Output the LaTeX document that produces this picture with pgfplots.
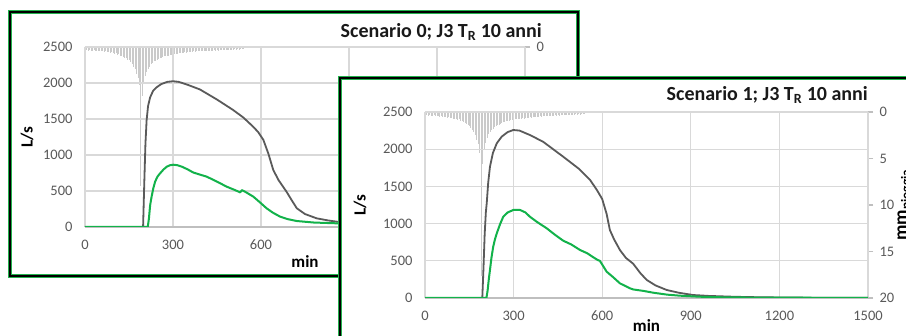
\documentclass[border=0pt]{standalone}
\usepackage{pgfplots}
\pgfplotsset{compat=1.18}
\usepackage{pgfplotstable}
\usepackage{fontspec}
\setmainfont{Carlito}
\definecolor{curvegray}{HTML}{5A5A5A}
\definecolor{curvegreen}{HTML}{12B24A}
\definecolor{gridgray}{HTML}{D9D9D9}
\definecolor{raingray}{HTML}{CACACA}
\definecolor{axisgray}{HTML}{BFBFBF}
\definecolor{ticktext}{HTML}{595959}
\definecolor{framegreen}{HTML}{22B14C}

% rain (mm per 5 min): a = scenario 0 panel, b = scenario 1 panel
\pgfplotstableread{
t a b
0 0.35 0.35
5 0.30 0.30
10 0.40 0.40
15 0.35 0.35
20 0.40 0.40
25 0.45 0.45
30 0.35 0.35
35 0.40 0.40
40 0.45 0.45
45 0.40 0.40
50 0.50 0.50
55 0.45 0.45
60 0.50 0.50
65 0.55 0.55
70 0.50 0.50
75 0.60 0.60
80 0.55 0.55
85 0.65 0.65
90 0.60 0.60
95 0.70 0.70
100 0.75 0.75
105 0.70 0.70
110 0.85 0.85
115 0.80 0.80
120 0.95 0.95
125 1.00 1.00
130 1.10 1.10
135 1.20 1.20
140 1.25 1.25
145 1.40 1.40
150 1.50 1.50
155 1.70 1.70
160 1.90 1.90
165 2.20 2.20
170 2.50 2.50
175 3.00 3.00
180 3.40 3.40
185 4.20 4.40
190 15.5 17.6
195 5.40 5.60
200 3.90 4.00
205 3.20 3.30
210 2.80 2.80
215 2.40 2.40
220 2.20 2.20
225 1.90 1.90
230 1.80 1.80
235 1.60 1.60
240 1.55 1.55
245 1.40 1.40
250 1.35 1.35
255 1.25 1.25
260 1.20 1.20
265 1.10 1.10
270 1.05 1.05
275 1.00 1.00
280 0.95 0.95
285 0.95 0.95
290 0.90 0.90
295 0.85 0.85
300 0.80 0.80
305 0.80 0.80
310 0.75 0.75
315 0.75 0.75
320 0.70 0.70
325 0.70 0.70
330 0.65 0.65
335 0.70 0.70
340 0.60 0.60
345 0.65 0.65
350 0.60 0.60
355 0.55 0.55
360 0.60 0.60
365 0.55 0.55
370 0.50 0.50
375 0.55 0.55
380 0.50 0.50
385 0.50 0.50
390 0.45 0.45
395 0.50 0.50
400 0.45 0.45
405 0.45 0.45
410 0.40 0.40
415 0.45 0.45
420 0.40 0.40
425 0.45 0.45
430 0.40 0.40
435 0.40 0.40
440 0.35 0.35
445 0.40 0.40
450 0.35 0.35
455 0.40 0.40
460 0.35 0.35
465 0.35 0.35
470 0.30 0.30
475 0.35 0.35
480 0.30 0.30
485 0.35 0.35
490 0.30 0.30
495 0.30 0.30
500 0.30 0.30
505 0.30 0.30
510 0.25 0.25
515 0.30 0.30
520 0.25 0.25
525 0.30 0.30
530 0.25 0.25
535 0.25 0.25
540 0.25 0.25
}\raindata

\pgfplotstableread{
t q
0 0
198 0
202 600
206 1150
210 1480
215 1680
222 1800
232 1890
244 1940
260 1985
280 2015
300 2025
320 2015
350 1975
392 1910
450 1770
505 1625
540 1520
574 1390
590 1320
608 1210
625 1020
642 790
660 650
687 490
705 370
722 260
750 180
790 120
830 90
858 74
900 55
1000 30
1100 15
1200 8
1300 4
1500 0
}\szeroGrey

\pgfplotstableread{
t q
0 0
214 0
218 120
222 300
227 421
233 540
239 629
247 700
256 745
268 800
279 838
290 858
301 865
315 858
330 838
350 800
369 757
390 730
415 699
450 630
483 560
510 515
529 481
535 512
550 480
574 421
597 340
619 260
640 200
665 144
690 110
722 83
780 62
858 51
950 35
1050 20
1200 8
1500 0
}\szeroGreen

\pgfplotstableread{
t q
0 0
194 0
198 400
202 850
206 1150
209 1273
214 1550
220 1765
230 1950
243 2079
260 2170
280 2230
299 2258
320 2250
355 2191
400 2100
468 1899
520 1740
559 1586
582 1452
600 1330
615 1130
626 914
640 790
660 645
680 540
705 460
730 330
751 242
780 170
818 108
860 70
908 40
960 28
1044 17
1100 12
1200 7
1300 4
1500 2
}\soneGrey

\pgfplotstableread{
t q
0 0
208 0
212 100
216 250
220 376
225 540
231 690
237 790
243 869
254 990
265 1093
280 1150
299 1183
322 1183
340 1150
355 1093
380 1020
412 937
440 850
468 770
495 720
525 645
550 600
570 547
585 510
592 500
600 450
615 354
637 280
660 197
694 130
705 115
740 95
773 71
820 45
863 31
931 17
1000 10
1100 6
1200 4
1500 2
}\soneGreen

\pgfplotsset{
  mainax/.style={
    scale only axis, anchor=south west,
    xmin=0, xmax=1500, ymin=0, ymax=2500,
    xtick={0,300,...,1500}, ytick={0,500,...,2500},
    grid=major, major grid style={gridgray, line width=1.1pt},
    axis x line*=bottom, axis y line*=left,
    y axis line style={draw=none},
    x axis line style={draw=axisgray, line width=1.1pt},
    major tick length=0pt,
    tick label style={font=\fontsize{14.5}{16}\selectfont, text=ticktext},
    /pgf/number format/assume math mode=true,
    /pgf/number format/1000 sep={},
    yticklabel style={xshift=-9pt},
    xticklabel style={yshift=-9.5pt},
    label style={font=\bfseries\fontsize{17}{19}\selectfont},
    xlabel style={at={(axis description cs:0.5,0)}, anchor=center},
    ylabel style={at={(axis description cs:0,0.5)}, anchor=center},
  },
  rainax/.style={
    scale only axis, anchor=south west,
    xmin=0, xmax=1500, ymin=0, ymax=20, y dir=reverse,
    axis x line=none, axis y line*=right,
    ytick={0,5,...,20},
    tick align=outside, major tick length=5pt,
    y axis line style={draw=axisgray, line width=1.1pt},
    ytick style={draw=axisgray, line width=1.1pt},
    tick label style={font=\fontsize{14.5}{16}\selectfont, text=ticktext},
    /pgf/number format/assume math mode=true,
    yticklabel style={xshift=3pt},
    label style={font=\bfseries\fontsize{19}{21}\selectfont},
    ylabel style={at={(axis description cs:1,0.5)}, anchor=north},
  },
}

\begin{document}
\begin{tikzpicture}[x=1pt,y=1pt]
\useasboundingbox (0,0) rectangle (906,336);
\clip (0,0) rectangle (906,336);
\fill[white] (0,0) rectangle (906,336);

% ---------- Scenario 0 panel ----------
\draw[framegreen, line width=4.5pt] (10,60) rectangle (578,324);
\draw[black, line width=1.4pt] (10,60) rectangle (578,324);
\begin{axis}[rainax, at={(85pt,109pt)}, width=440pt, height=180pt,
  ylabel={mm\textsubscript{pioggia}}, ylabel style={yshift=-26pt}]
\addplot[ycomb, raingray, line width=0.6pt, mark=none] table[x=t, y=a]{\raindata};
\end{axis}
\begin{axis}[mainax, at={(85pt,109pt)}, width=440pt, height=180pt,
  xlabel={min}, ylabel={L/s},
  xlabel style={yshift=-35pt}, ylabel style={yshift=58pt}]
\addplot[curvegray, line width=1.8pt, line join=round, mark=none] table[x=t, y=q]{\szeroGrey};
\addplot[curvegreen, line width=2pt, line join=round, mark=none] table[x=t, y=q]{\szeroGreen};
\end{axis}
\node[anchor=east, inner sep=0pt, font=\bfseries\fontsize{20}{22}\selectfont, text=black!90]
  at (542,304) {Scenario 0; J3 T\textsubscript{R} 10 anni};

% ---------- Scenario 1 panel ----------
\fill[white] (340,-30) rectangle (960,258);
\draw[framegreen, line width=4.5pt] (340,-30) rectangle (960,258);
\draw[black, line width=1.4pt] (340,-30) rectangle (960,258);
\begin{axis}[rainax, at={(425pt,38pt)}, width=443pt, height=186pt,
  ylabel={mm\textsubscript{pioggia}}, ylabel style={yshift=-26pt}]
\addplot[ycomb, raingray, line width=0.6pt, mark=none] table[x=t, y=b]{\raindata};
\end{axis}
\begin{axis}[mainax, at={(425pt,38pt)}, width=443pt, height=186pt,
  xlabel={min}, ylabel={L/s},
  xlabel style={yshift=-28pt}, ylabel style={yshift=65pt}]
\addplot[curvegray, line width=1.8pt, line join=round, mark=none] table[x=t, y=q]{\soneGrey};
\addplot[curvegreen, line width=2pt, line join=round, mark=none] table[x=t, y=q]{\soneGreen};
\end{axis}
\node[anchor=east, inner sep=0pt, font=\bfseries\fontsize{20}{22}\selectfont, text=black!90]
  at (868,241) {Scenario 1; J3 T\textsubscript{R} 10 anni};
\end{tikzpicture}
\end{document}
